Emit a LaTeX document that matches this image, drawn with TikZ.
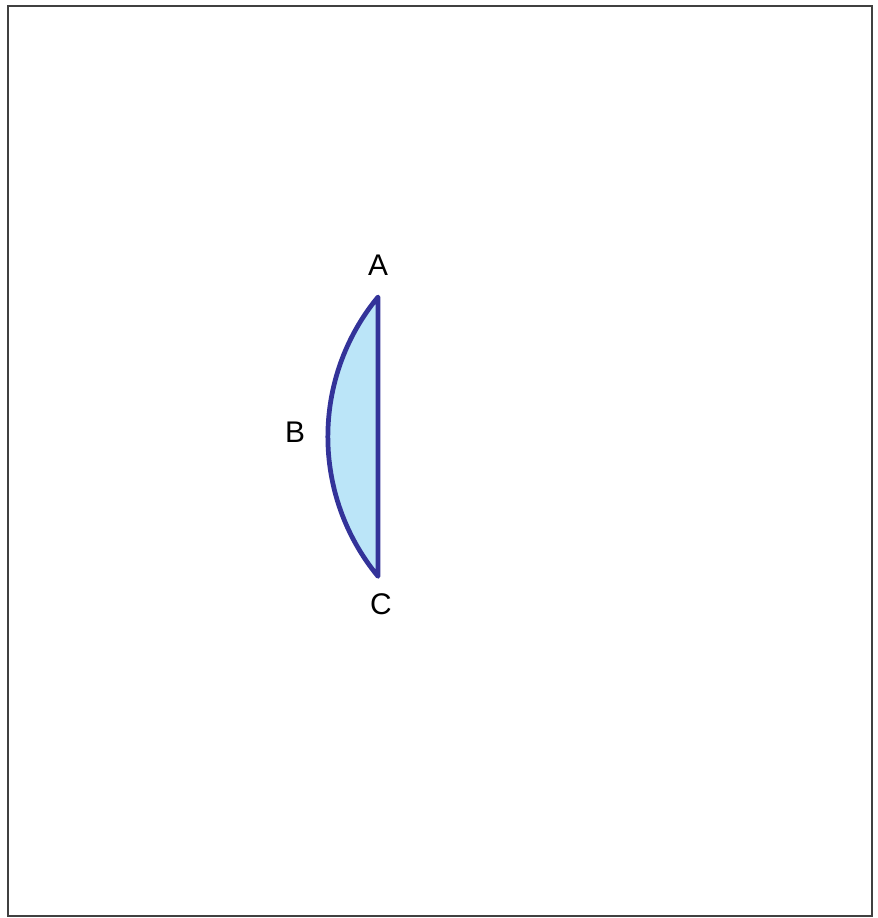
\documentclass[tikz,border=0pt]{standalone}
\usepackage{fontspec}
\setmainfont{Liberation Sans}
\definecolor{lensblue}{HTML}{333399}
\definecolor{lensfill}{HTML}{BBE5F8}
\definecolor{framegray}{HTML}{404040}
\tikzset{
  frame/.style={draw=framegray, line width=1.3pt},
  lens/.style={draw=lensblue, fill=lensfill, line width=2.7pt, line join=round},
  lbl/.style={font=\fontsize{17}{20}\selectfont, inner sep=0pt}
}
\begin{document}
\begin{tikzpicture}[x=0.02cm, y=-0.02cm]
\useasboundingbox (0,0) rectangle (877,918);
% outer frame
\draw[frame] (8,6) rectangle (872,916);
% lens segment
\coordinate (A) at (378,297);
\coordinate (C) at (378,576);
\draw[lens] (A) arc[start angle=219.5, end angle=140.5, radius=219.6] -- (A) -- cycle;
% labels
\node[lbl] (labA) at (378,265) {A};
\node[lbl] (labB) at (295,432) {B};
\node[lbl] (labC) at (381,604) {C};
\end{tikzpicture}
\end{document}
